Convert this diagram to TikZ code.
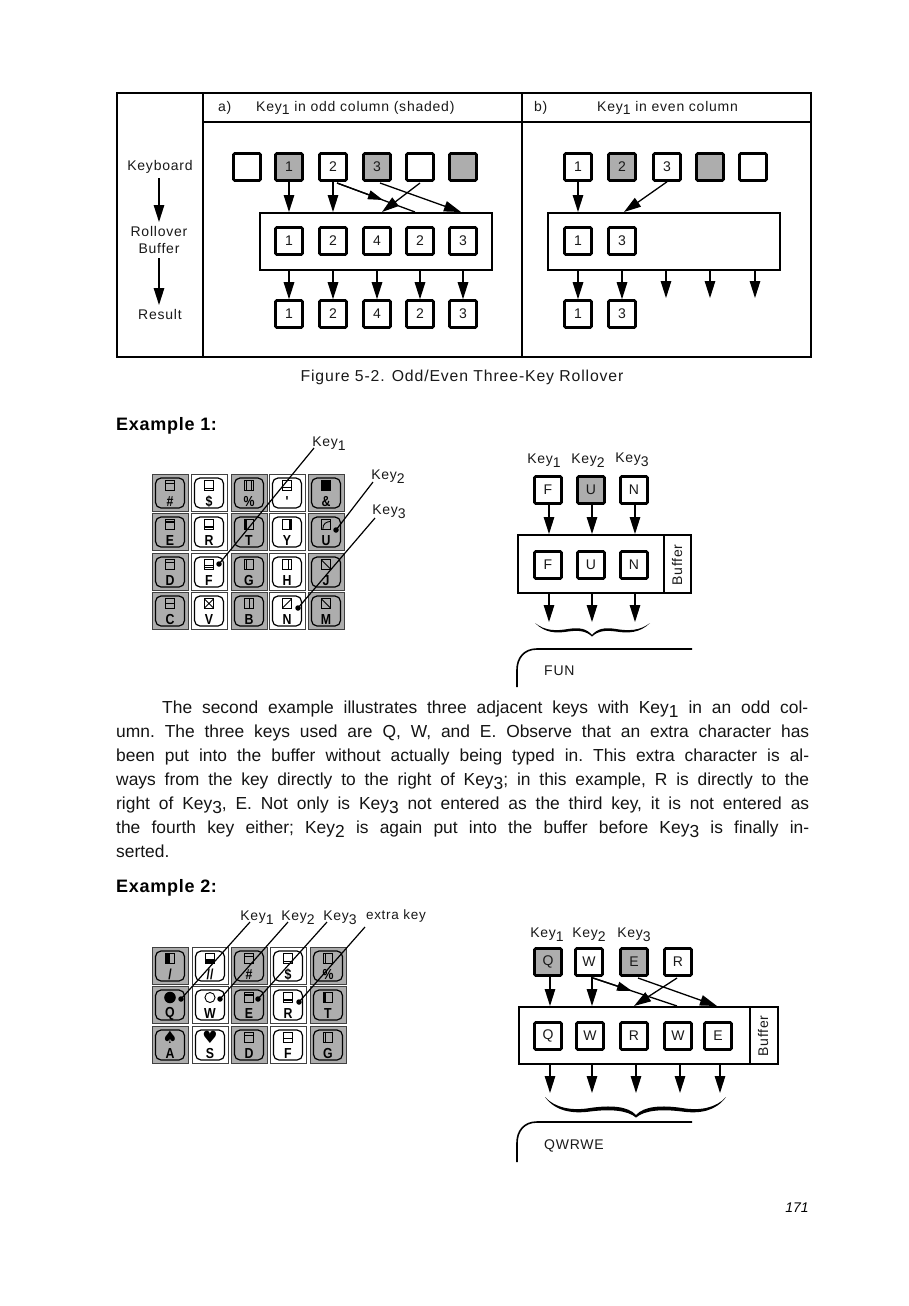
\documentclass[tikz,border=0pt]{standalone}
\usepackage{fontspec}
\setmainfont{Liberation Sans}
\newfontfamily\symfont{DejaVu Sans}
\newfontfamily\parafont[FakeStretch=1.0]{Liberation Sans}
\newfontfamily\lblfont[LetterSpace=5.5]{Liberation Sans}
\newfontfamily\headfont[BoldFeatures={LetterSpace=4}]{Liberation Sans}
\newfontfamily\capfont[BoldFeatures={FakeStretch=0.85}]{Liberation Sans}
\usetikzlibrary{arrows.meta,calc}
\definecolor{shade}{gray}{0.68}
\newcommand{\kk}[1]{Key\raisebox{-0.28em}{#1}}
\tikzset{
  x=1pt,y=-1pt,
  frame/.style={line width=1.8pt,draw=black,line cap=round},
  keybox/.style={draw=black,line width=2.6pt,fill=white,minimum size=27pt,inner sep=0pt,rounded corners=1.2pt,font=\fontsize{14}{14}\selectfont,text=black!90},
  shaded/.style={keybox,fill=shade},
  bufbox/.style={draw=black,line width=2.4pt,fill=white,inner sep=0pt,anchor=north west},
  lbl/.style={inner sep=0pt,font=\lblfont\fontsize{14}{16}\selectfont,text=black!90},
  para/.style={inner sep=0pt,anchor=base west,font=\parafont\frenchspacing\fontsize{17.4}{20}\selectfont,text=black!92},
  head/.style={inner sep=0pt,anchor=base west,font=\headfont\bfseries\fontsize{18}{20}\selectfont},
  arr/.style={line width=1.3pt,-{Triangle[length=17pt,width=10.5pt]},shorten >=0pt},
  midarr/.style={line width=1.3pt,-{Triangle[length=15pt,width=9pt]}},
  plainln/.style={line width=1.3pt},
  ptr/.style={line width=1.2pt,draw=black},
  dotp/.style={circle,fill=black,inner sep=0pt,minimum size=5.5pt},
  cellout/.style={draw=black!75,line width=1pt,minimum width=36pt,minimum height=37pt,inner sep=0pt},
  cellin/.style={draw=black,line width=1.2pt,rounded corners=5.5pt,minimum width=29pt,minimum height=30pt,inner sep=0pt},
  symb/.style={draw=black,line width=0.9pt},
  capt/.style={inner sep=0pt,font=\capfont\bfseries\fontsize{14.5}{15}\selectfont},
  corner/.style={line width=1.6pt,draw=black}
}
\newcommand{\keycap}[6]{%
  \node[cellout,fill=#4] (o#1) at (#2,#3) {};
  \node[cellin,fill=#4] (i#1) at (#2,#3) {};
  \begin{scope}[shift={(#2,#3-7.5)},scale=1.05]#5\end{scope}
  \node[capt] (t#1) at (#2,#3+8.5) {#6};
}
\newcommand{\sq}{\draw[symb] (-4.5,-4.5) rectangle (4.5,4.5);}
\newcommand{\hh}[1]{\sq\draw[symb] (-4.5,#1) -- (4.5,#1);}
\newcommand{\vv}[1]{\sq\draw[symb] (#1,-4.5) -- (#1,4.5);}
\begin{document}
\begin{tikzpicture}
\useasboundingbox (0,0) rectangle (909,1306);
\fill[white] (0,0) rectangle (909,1306);
% table
\draw[frame] (117,93) rectangle (811,357);
\draw[frame] (203,93) -- (203,357);
\draw[frame] (522,93) -- (522,357);
\draw[frame] (203,122) -- (811,122);
\node[lbl,anchor=base west] (ha) at (218,111) {a)};
\node[lbl,anchor=base west] (hat) at (256,111) {\kk{1} in odd column (shaded)};
\node[lbl,anchor=base west] (hb) at (534,111) {b)};
\node[lbl,anchor=base west] (hbt) at (597,111) {\kk{1} in even column};
\node[lbl] (lk) at (160,167) {Keyboard};
\node[lbl] (lr) at (159,231) {Rollover};
\node[lbl] (lb) at (159,249) {Buffer};
\node[lbl] (lre) at (160,314) {Result};
\draw[arr] (159,178) -- (159,222);
\draw[arr] (159,258) -- (159,305);
% a) top
\node[keybox] (a1) at (247,167) {};
\node[shaded] (a2) at (289,167) {1};
\node[keybox] (a3) at (333,167) {2};
\node[shaded] (a4) at (377,167) {3};
\node[keybox] (a5) at (420,167) {};
\node[shaded] (a6) at (463,167) {};
\draw[bufbox] (260,213) rectangle (492,270);
\coordinate (abufn) at (376,212);
\coordinate (abufs) at (376,271);
\foreach \i/\x/\t in {1/289/1,2/333/2,3/377/4,4/420/2,5/463/3}{
  \node[keybox] (am\i) at (\x,241) {\t};
  \node[keybox] (ab\i) at (\x,314) {\t};
  \draw[arr] (am\i.center |- abufs) -- (ab\i.north);
}
\draw[arr] (a2.south) -- (a2.south |- abufn);
\draw[arr] (a3.south) -- (a3.south |- abufn);
\coordinate (a3e) at (415,212);
\coordinate (a4e) at (461,212);
\coordinate (a5e) at (382,212);
\draw[plainln] (337,183) -- (a3e);
\draw[midarr] (337,183) -- (383,200);
\draw[arr] (380,183) -- (a4e);
\draw[arr] (420,183) -- (a5e);
% b)
\node[keybox] (b1) at (578,167) {1};
\node[shaded] (b2) at (622,167) {2};
\node[keybox] (b3) at (667,167) {3};
\node[shaded] (b4) at (710,167) {};
\node[keybox] (b5) at (753,167) {};
\draw[bufbox] (548,213) rectangle (780,270);
\coordinate (bbufn) at (664,212);
\coordinate (bbufs) at (664,271);
\foreach \i/\x/\t in {1/578/1,2/622/3}{
  \node[keybox] (bm\i) at (\x,241) {\t};
  \node[keybox] (bb\i) at (\x,314) {\t};
  \draw[arr] (bm\i.center |- bbufs) -- (bb\i.north);
}
\foreach \i/\x in {3/666,4/710,5/755}{
  \coordinate (bf\i) at (\x,298);
  \draw[arr] (bf\i |- bbufs) -- (bf\i);
}
\draw[arr] (b1.south) -- (b1.south |- bbufn);
\coordinate (b3e) at (624,212);
\draw[arr] (b3.south) -- (b3e);
\node[inner sep=0pt,font=\lblfont\fontsize{15.8}{18}\selectfont,text=black!90] (cap) at (462,377) {Figure 5-2. Odd/Even Three-Key Rollover};
% Example 1
\node[head] (ex1) at (116,430) {Example 1:};
\keycap{a}{170}{493}{shade}{\hh{-2}}{\#}
\keycap{b}{209}{493}{white}{\hh{2.5}}{\$}
\keycap{c}{249}{493}{shade}{\sq\draw[symb] (-2,-4.5) -- (-2,4.5) (2,-4.5) -- (2,4.5);}{\%}
\keycap{d}{287}{493}{white}{\sq\draw[symb] (-4.5,2) -- (4.5,2);}{'}
\keycap{e}{326}{493}{shade}{\fill (-5,-5) rectangle (5,5);}{\&}
\keycap{f}{170}{532}{shade}{\hh{-2}\draw[symb] (-4.5,-3.3) -- (4.5,-3.3);}{E}
\keycap{g}{209}{532}{white}{\hh{3}\draw[symb] (-4.5,1.5) -- (4.5,1.5);}{R}
\keycap{h}{249}{532}{shade}{\vv{-2}\draw[symb] (-3.3,-4.5) -- (-3.3,4.5);}{T}
\keycap{i}{287}{532}{white}{\vv{2}\draw[symb] (3.3,-4.5) -- (3.3,4.5);}{Y}
\keycap{j}{326}{532}{shade}{\sq\draw[symb] (-3,4.5) .. controls (-3,-1) and (0,-2.5) .. (4.5,-3);}{U}
\keycap{k}{170}{572}{shade}{\hh{-2}}{D}
\keycap{l}{209}{572}{white}{\hh{0.5}\draw[symb] (-4.5,2.5) -- (4.5,2.5);}{F}
\keycap{m}{249}{572}{shade}{\vv{-2}}{G}
\keycap{n}{287}{572}{white}{\vv{1}}{H}
\keycap{o}{326}{572}{shade}{\sq\draw[symb] (-4.5,-4.5) -- (4.5,4.5);}{J}
\keycap{p}{170}{611}{shade}{\hh{0}}{C}
\keycap{q}{209}{611}{white}{\sq\draw[symb] (-4.5,-4.5) -- (4.5,4.5) (-4.5,4.5) -- (4.5,-4.5);}{V}
\keycap{r}{249}{611}{shade}{\vv{0}}{B}
\keycap{s}{287}{611}{white}{\sq\draw[symb] (-4.5,4.5) -- (4.5,-4.5);}{N}
\keycap{t}{326}{611}{shade}{\sq\draw[symb] (-4.5,-4.5) -- (4.5,4.5);}{M}
\node[dotp] (d1) at (219,564) {};
\node[dotp] (d2) at (336,530) {};
\node[dotp] (d3) at (298,608) {};
\coordinate (e1) at (314,448);
\coordinate (e2) at (373,482);
\coordinate (e3) at (375,518);
\draw[ptr] (d1.center) -- (e1);
\draw[ptr] (d2.center) -- (e2);
\draw[ptr] (d3.center) -- (e3);
\node[lbl] (kl1) at (329,444) {\kk{1}};
\node[lbl] (kl2) at (388,477) {\kk{2}};
\node[lbl] (kl3) at (389,512) {\kk{3}};
% right ex 1
\node[lbl] (r1l) at (544,461) {\kk{1}};
\node[lbl] (r2l) at (588,461) {\kk{2}};
\node[lbl] (r3l) at (632,460) {\kk{3}};
\node[keybox] (r1) at (548,490) {F};
\node[shaded] (r2) at (591,490) {U};
\node[keybox] (r3) at (634,490) {N};
\draw[bufbox] (518,535) rectangle (691,593);
\draw[line width=1.2pt] (664,535) -- (664,593);
\coordinate (rbn) at (600,534);
\coordinate (rbs) at (600,594);
\node[lbl,rotate=90] (rbt) at (677,565) {Buffer};
\foreach \i/\x/\t in {1/548/F,2/591/U,3/634/N}{
  \node[keybox] (rm\i) at (\x,565) {\t};
  \draw[arr] ($(r\i.south)+(1,0)$) -- ($(r\i.south |- rbn)+(1,0)$);
  \coordinate (rf\i) at (\x+1,622);
  \draw[arr] (rf\i |- rbs) -- (rf\i);
}
\fill (535,623) .. controls (545,631) and (556,631) .. (568,629) .. controls (580,627) and (587,629) .. (592,635)
  .. controls (597,629) and (604,627) .. (616,629) .. controls (628,631) and (640,631) .. (650,623)
  .. controls (640,633) and (628,633.5) .. (616,631.5) .. controls (605,630) and (598,631) .. (592,636.5)
  .. controls (586,631) and (579,630) .. (568,631.5) .. controls (556,633.5) and (545,633) .. (535,623) -- cycle;
\draw[corner] (692,649) -- (537,649) .. controls (524,649) and (517,658) .. (517,670) -- (517,687);
\node[lbl,anchor=base west] (fun) at (544,675) {FUN};
% paragraph
\node[para] (p1) at (162,713) {\makebox[646pt][s]{The second example illustrates three adjacent keys with \kk{1} in an odd col-}};
\node[para] (p2) at (116,737) {\makebox[693pt][s]{umn. The three keys used are Q, W, and E. Observe that an extra character has}};
\node[para] (p3) at (116,761.5) {\makebox[693pt][s]{been put into the buffer without actually being typed in. This extra character is al-}};
\node[para] (p4) at (116,785) {\makebox[693pt][s]{ways from the key directly to the right of \kk{3}; in this example, R is directly to the}};
\node[para] (p5) at (116,809) {\makebox[693pt][s]{right of \kk{3}, E. Not only is \kk{3} not entered as the third key, it is not entered as}};
\node[para] (p6) at (116,833) {\makebox[693pt][s]{the fourth key either; \kk{2} is again put into the buffer before \kk{3} is finally in-}};
\node[para] (p7) at (116,857) {serted.};
% Example 2
\node[head] (ex2) at (116,892) {Example 2:};
\keycap{A}{170}{966}{shade}{\sq\fill (-4.5,-4.5) rectangle (0,4.5);}{/}
\keycap{B}{210}{966}{white}{\sq\fill (-4.5,0) rectangle (4.5,4.5);}{//}
\keycap{C}{249}{966}{shade}{\hh{-2}}{\#}
\keycap{D}{288}{966}{white}{\hh{2.5}}{\$}
\keycap{E}{328}{966}{shade}{\vv{-2}}{\%}
\keycap{F}{170}{1005}{shade}{\fill (0,0) circle (5.5);}{Q}
\keycap{G}{210}{1005}{white}{\draw[symb] (0,0) circle (4.8);}{W}
\keycap{H}{249}{1005}{shade}{\hh{-2}\draw[symb] (-4.5,-3.3) -- (4.5,-3.3);}{E}
\keycap{I}{288}{1005}{white}{\hh{3}\draw[symb] (-4.5,1.5) -- (4.5,1.5);}{R}
\keycap{J}{328}{1005}{shade}{\vv{-2}\draw[symb] (-3.3,-4.5) -- (-3.3,4.5);}{T}
\keycap{K}{170}{1045}{shade}{\node[inner sep=0pt,font=\symfont\fontsize{17}{17}\selectfont] (sp) at (0,0) {♠};}{A}
\keycap{L}{210}{1045}{white}{\node[inner sep=0pt,font=\symfont\fontsize{17}{17}\selectfont] (he) at (0,0) {♥};}{S}
\keycap{M}{249}{1045}{shade}{\hh{-2}}{D}
\keycap{N}{288}{1045}{white}{\hh{0.5}}{F}
\keycap{O}{328}{1045}{shade}{\vv{-2}}{G}
\node[dotp] (D1) at (181,999) {};
\node[dotp] (D2) at (220,999) {};
\node[dotp] (D3) at (258,999) {};
\node[dotp] (D4) at (299,1002) {};
\coordinate (E1) at (250,922);
\coordinate (E2) at (288,922);
\coordinate (E3) at (327,922);
\coordinate (E4) at (365,927);
\draw[ptr] (D1.center) -- (E1);
\draw[ptr] (D2.center) -- (E2);
\draw[ptr] (D3.center) -- (E3);
\draw[ptr] (D4.center) -- (E4);
\node[lbl] (K1) at (257,918) {\kk{1}};
\node[lbl] (K2) at (298,918) {\kk{2}};
\node[lbl] (K3) at (340,918) {\kk{3}};
\node[lbl,font=\lblfont\fontsize{13.5}{16}\selectfont] (K4) at (396,916) {extra key};
% right ex 2
\node[lbl] (s1l) at (547,935) {\kk{1}};
\node[lbl] (s2l) at (589,935) {\kk{2}};
\node[lbl] (s3l) at (634,935) {\kk{3}};
\node[shaded] (s1) at (548,962) {Q};
\node[keybox] (s2) at (589,962) {W};
\node[shaded] (s3) at (634,962) {E};
\node[keybox] (s4) at (678,962) {R};
\draw[bufbox] (519,1007) rectangle (778,1064);
\draw[line width=1.2pt] (750,1007) -- (750,1064);
\node[lbl,rotate=90] (sbt) at (763,1036) {Buffer};
\foreach \i/\x/\t in {1/548/Q,2/590/W,3/634/R,4/678/W,5/718/E}{
  \node[keybox] (sm\i) at (\x,1036) {\t};
  \coordinate (sf\i) at (\x+2,1093);
  \draw[arr] (\x+2,1065) -- (sf\i);
}
\coordinate (sbn1) at (550,1006);
\coordinate (sbn2) at (592,1006);
\coordinate (sbn3) at (677,1006);
\coordinate (sbn4) at (717,1006);
\coordinate (sbn5) at (634,1006);
\draw[arr] (550,977) -- (sbn1);
\draw[arr] (592,977) -- (sbn2);
\draw[plainln] (593,978) -- (sbn3);
\draw[midarr] (593,978) -- (632,991);
\draw[arr] (638,978) -- (sbn4);
\draw[arr] (677,978) -- (sbn5);
\fill (545,1097) .. controls (555,1108) and (572,1111) .. (590,1108) .. controls (610,1105) and (628,1106) .. (636,1115)
  .. controls (644,1106) and (662,1105) .. (682,1108) .. controls (700,1111) and (716,1108) .. (726,1097)
  .. controls (716,1111) and (700,1114) .. (682,1111.5) .. controls (662,1109) and (645,1110) .. (636,1117.5)
  .. controls (627,1110) and (610,1109) .. (590,1111.5) .. controls (572,1114) and (555,1111) .. (545,1097) -- cycle;
\draw[corner] (692,1122) -- (537,1122) .. controls (524,1122) and (517,1131) .. (517,1143) -- (517,1162);
\node[lbl,anchor=base west] (qw) at (544,1149) {QWRWE};
\node[inner sep=0pt,font=\itshape\fontsize{14}{16}\selectfont] (pg) at (797,1208) {171};
\end{tikzpicture}
\end{document}
